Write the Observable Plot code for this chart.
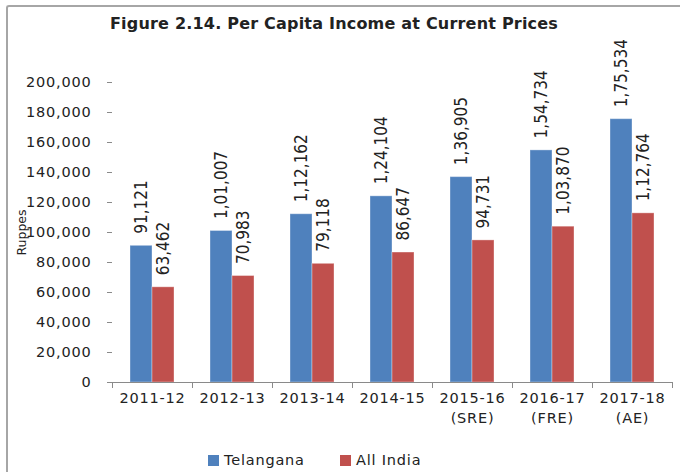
<!DOCTYPE html>
<html>
<head>
<meta charset="utf-8">
<script src="https://cdn.jsdelivr.net/npm/d3@7"></script>
<script src="https://cdn.jsdelivr.net/npm/@observablehq/plot@0.6"></script>
<style>
  html, body { margin: 0; padding: 0; background: #fff; }
  body { width: 680px; height: 472px; position: relative; overflow: hidden; font-family: "DejaVu Sans", sans-serif; color: #222; }
  #box { position: absolute; left: 6px; top: 5px; width: 720px; height: 520px; border-left: 2px solid #a6a6a6; border-top: 2px solid #a6a6a6; border-radius: 3px 0 0 0; }
  #title { position: absolute; left: 0; top: 14px; width: 668px; text-align: center; font-weight: bold; font-size: 16px; line-height: 20px; letter-spacing: 0.2px; }
  #chart { position: absolute; left: 0; top: 40px; }
  #legend { position: absolute; top: 450px; left: 0; width: 680px; height: 20px; font-size: 14.5px; letter-spacing: 0.8px; }
  .item { position: absolute; top: 0; display: flex; align-items: center; height: 20px; }
  .sw { width: 11px; height: 11px; margin-right: 5px; }
  svg g[aria-label="text"] { letter-spacing: 0; }
  svg g[aria-label="y-axis label"] { font-size: 12.5px; letter-spacing: 0; }
</style>
</head>
<body>
<div id="box"></div>
<div id="title">Figure 2.14. Per Capita Income at Current Prices</div>
<div id="chart"></div>
<div id="legend"></div>
<script>
const categories = ["2011-12", "2012-13", "2013-14", "2014-15", "2015-16\n(SRE)", "2016-17\n(FRE)", "2017-18\n(AE)"];
const seriesNames = ["Telangana", "All India"];
const telangana = [91121, 101007, 112162, 124104, 136905, 154734, 175534];
const allIndia = [63462, 70983, 79118, 86647, 94731, 103870, 112764];
const yTicks = [0, 20000, 40000, 60000, 80000, 100000, 120000, 140000, 160000, 180000, 200000];
const colors = ["#4F81BD", "#C0504D"];

const data = categories.flatMap((c, i) => [
  {year: c, series: seriesNames[0], value: telangana[i]},
  {year: c, series: seriesNames[1], value: allIndia[i]}
]);

function inr(n) {
  const s = String(n);
  if (s.length <= 3) return s;
  const last3 = s.slice(-3);
  let rest = s.slice(0, -3);
  const parts = [];
  while (rest.length > 2) { parts.unshift(rest.slice(-2)); rest = rest.slice(0, -2); }
  if (rest) parts.unshift(rest);
  return parts.join(",") + "," + last3;
}

const W = 680, H = 400, mt = 42, mb = 58, ml = 110, mr = 7;
const axisGray = "#8a8a8a";

const chart = Plot.plot({
  width: W, height: H,
  marginTop: mt, marginBottom: mb, marginLeft: ml, marginRight: mr,
  style: {fontFamily: "DejaVu Sans", fontSize: "14.5px", color: "#222", letterSpacing: "0.8px", overflow: "visible", background: "transparent"},
  fx: {domain: categories, padding: 0},
  x: {domain: seriesNames, paddingInner: 0, paddingOuter: 0.78, axis: null},
  y: {domain: [0, 200000]},
  color: {domain: seriesNames, range: colors},
  marks: [
    Plot.barY(data, {fx: "year", x: "series", y: "value", fill: "series", stroke: "white", strokeOpacity: 0.35, strokeWidth: 1}),
    Plot.ruleY([0], {stroke: axisGray}),
    Plot.frame({anchor: "left", stroke: axisGray, insetTop: H - mt - mb, insetBottom: -5}),
    Plot.frame({anchor: "right", stroke: axisGray, insetTop: H - mt - mb, insetBottom: -5}),
    Plot.axisY({ticks: yTicks, tickFormat: d3.format(","), tickSize: 5, tickPadding: 16, stroke: axisGray, fill: "#222", line: true,
      label: "Ruppes", labelAnchor: "center", labelOffset: 95, labelArrow: "none"}),
    Plot.axisFx({anchor: "bottom", tickSize: 0, tickPadding: 7, label: null, lineHeight: 1.35, fill: "#222"}),
    Plot.text(data, {fx: "year", x: "series", y: "value", text: d => inr(d.value), rotate: -90, textAnchor: "start", dy: -12,
      fontSize: 17, fontFamily: "Liberation Sans Narrow, DejaVu Sans Condensed, sans-serif", fill: "#222"})
  ]
});
document.getElementById("chart").appendChild(chart);

const legend = document.getElementById("legend");
const legendX = [208, 340];
seriesNames.forEach((s, i) => {
  const it = document.createElement("div");
  it.className = "item";
  it.style.left = legendX[i] + "px";
  const sw = document.createElement("span");
  sw.className = "sw";
  sw.style.background = colors[i];
  const t = document.createElement("span");
  t.textContent = s;
  it.appendChild(sw); it.appendChild(t);
  legend.appendChild(it);
});
</script>
</body>
</html>
